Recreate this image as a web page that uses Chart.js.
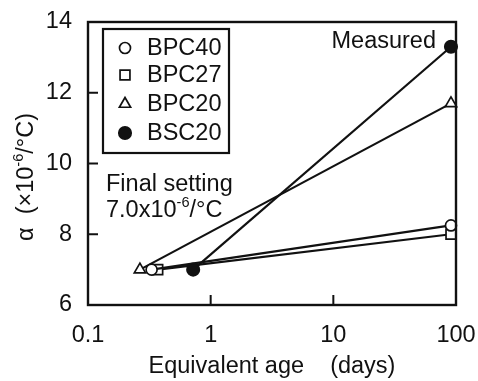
<!DOCTYPE html>
<html>
<head>
<meta charset="utf-8">
<script src="https://cdn.jsdelivr.net/npm/chart.js@4/dist/chart.umd.min.js"></script>
<style>
html,body{margin:0;padding:0;background:#fff;}
#wrap{width:478px;height:381px;position:relative;}
</style>
</head>
<body>
<div id="wrap"><canvas id="c" width="478" height="381"></canvas></div>
<script>
// ---- data ----
const seriesNames = ['BPC40', 'BPC27', 'BPC20', 'BSC20'];
const ageBPC40 = [0.33, 91];
const alphaBPC40 = [7.0, 8.25];
const ageBPC27 = [0.37, 91];
const alphaBPC27 = [7.0, 8.0];
const ageBPC20 = [0.265, 91];
const alphaBPC20 = [7.0, 11.7];
const ageBSC20 = [0.72, 91];
const alphaBSC20 = [7.0, 13.3];
const xTickValues = [0.1, 1, 10, 100];
const yTickValues = [6, 8, 10, 12, 14];

const FONT = '"Liberation Sans", Arial, Helvetica, sans-serif';
const FS = 23.5;

function pts(xs, ys) { return xs.map((x, i) => ({x: x, y: ys[i]})); }

const markerStyles = [
  {pointStyle: 'circle', radius: 5.5, bg: '#fff'},
  {pointStyle: 'rect', radius: 7, bg: '#fff'},
  {pointStyle: 'triangle', radius: 6.5, bg: '#fff'},
  {pointStyle: 'circle', radius: 6.2, bg: '#111'}
];
const seriesData = [
  pts(ageBPC40, alphaBPC40),
  pts(ageBPC27, alphaBPC27),
  pts(ageBPC20, alphaBPC20),
  pts(ageBSC20, alphaBSC20)
];

const datasets = seriesNames.map((name, i) => ({
  label: name,
  data: seriesData[i],
  showLine: true,
  borderColor: '#111',
  borderWidth: 2.2,
  pointStyle: markerStyles[i].pointStyle,
  pointRadius: markerStyles[i].radius,
  pointBackgroundColor: markerStyles[i].bg,
  pointBorderColor: '#111',
  pointBorderWidth: 1.7,
  clip: false
}));

function drawSupText(ctx, parts, x, y) {
  let cx = x;
  parts.forEach(p => {
    if (p.sup) {
      ctx.font = (FS * 0.62) + 'px ' + FONT;
      ctx.fillText(p.t, cx, y - FS * 0.42);
    } else {
      ctx.font = FS + 'px ' + FONT;
      ctx.fillText(p.t, cx, y);
    }
    cx += ctx.measureText(p.t).width;
  });
  return cx - x;
}

const decor = {
  id: 'decor',
  afterDatasetsDraw(chart) {
    const ctx = chart.ctx;
    const a = chart.chartArea;
    const xs = chart.scales.x, ys = chart.scales.y;
    ctx.save();
    ctx.strokeStyle = '#111';
    ctx.fillStyle = '#111';
    // frame
    ctx.lineWidth = 2.4;
    ctx.strokeRect(a.left, a.top, a.right - a.left, a.bottom - a.top);
    // inward ticks
    ctx.lineWidth = 2;
    xs.ticks.forEach(t => {
      if (t.value <= xs.min || t.value >= xs.max) return;
      const px = xs.getPixelForValue(t.value);
      ctx.beginPath(); ctx.moveTo(px, a.bottom); ctx.lineTo(px, a.bottom - 10); ctx.stroke();
    });
    ys.ticks.forEach(t => {
      if (t.value <= ys.min || t.value >= ys.max) return;
      const py = ys.getPixelForValue(t.value);
      ctx.beginPath(); ctx.moveTo(a.left, py); ctx.lineTo(a.left + 10, py); ctx.stroke();
    });

    // legend box
    const lx = 103, ly = 29, lw = 126, lh = 124;
    ctx.lineWidth = 2.2;
    ctx.fillStyle = '#fff';
    ctx.fillRect(lx, ly, lw, lh);
    ctx.strokeRect(lx, ly, lw, lh);
    const rowY = [48, 75, 104, 133];
    chart.data.datasets.forEach((ds, i) => {
      const my = rowY[i], mx = 125;
      ctx.fillStyle = ds.pointBackgroundColor;
      ctx.strokeStyle = '#111';
      ctx.lineWidth = ds.pointBorderWidth;
      ctx.beginPath();
      if (ds.pointStyle === 'circle') {
        ctx.arc(mx, my, ds.pointRadius, 0, Math.PI * 2);
      } else if (ds.pointStyle === 'rect') {
        const s = ds.pointRadius * Math.SQRT1_2 * 2;
        ctx.rect(mx - s / 2, my - s / 2, s, s);
      } else {
        const r = ds.pointRadius;
        ctx.moveTo(mx, my - r);
        ctx.lineTo(mx + r * 0.866, my + r * 0.5);
        ctx.lineTo(mx - r * 0.866, my + r * 0.5);
        ctx.closePath();
      }
      ctx.fill(); ctx.stroke();
      ctx.fillStyle = '#111';
      ctx.font = FS + 'px ' + FONT;
      ctx.textAlign = 'left';
      ctx.textBaseline = 'middle';
      ctx.fillText(ds.label, 147, my + 1);
    });

    // annotations
    ctx.fillStyle = '#111';
    ctx.font = FS + 'px ' + FONT;
    ctx.textAlign = 'right';
    ctx.textBaseline = 'alphabetic';
    ctx.fillText('Measured', 436, 48);
    ctx.textAlign = 'left';
    ctx.fillText('Final setting', 106, 191);
    drawSupText(ctx, [{t: '7.0x10'}, {t: '-6', sup: true}, {t: '/°C'}], 106, 217);

    // y axis title (rotated)
    ctx.save();
    ctx.translate(33, 241);
    ctx.rotate(-Math.PI / 2);
    ctx.textAlign = 'left';
    drawSupText(ctx, [{t: 'α  (×10'}, {t: '-6', sup: true}, {t: '/°C)'}], 0, 0);
    ctx.restore();

    ctx.restore();
  }
};

new Chart(document.getElementById('c'), {
  type: 'scatter',
  data: {datasets: datasets},
  options: {
    responsive: false,
    animation: false,
    devicePixelRatio: 1,
    layout: {padding: {left: 0, right: 22, top: 22, bottom: 0}},
    plugins: {legend: {display: false}, tooltip: {enabled: false}},
    scales: {
      x: {
        type: 'logarithmic',
        min: 0.1, max: 100,
        afterBuildTicks: s => { s.ticks = xTickValues.map(v => ({value: v})); },
        afterFit: s => { s.height = 76; s.paddingLeft = 0; s.paddingRight = 0; },
        grid: {display: false, drawTicks: false},
        border: {display: false},
        ticks: {
          color: '#111', padding: 16, maxRotation: 0, autoSkip: false,
          font: {family: FONT, size: FS},
          callback: v => String(v)
        },
        title: {
          display: true, text: 'Equivalent age    (days)', color: '#111',
          font: {family: FONT, size: FS}, padding: {top: 0, bottom: 0}
        }
      },
      y: {
        min: 6, max: 14,
        afterBuildTicks: s => { s.ticks = yTickValues.map(v => ({value: v})); },
        afterFit: s => { s.width = 88; s.paddingTop = 0; s.paddingBottom = 0; },
        grid: {display: false, drawTicks: false},
        border: {display: false},
        ticks: {color: '#111', padding: 16, font: {family: FONT, size: FS}}
      }
    }
  },
  plugins: [decor]
});
</script>
</body>
</html>
